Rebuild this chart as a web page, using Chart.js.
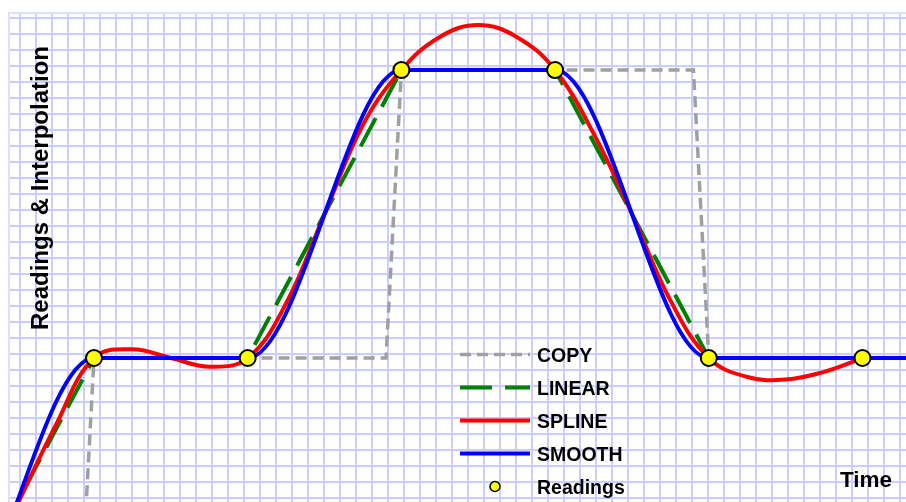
<!DOCTYPE html>
<html>
<head>
<meta charset="utf-8">
<title>Readings &amp; Interpolation</title>
<script src="https://cdn.jsdelivr.net/npm/chart.js@4.4.1/dist/chart.umd.min.js"></script>
<style>
  html, body { margin: 0; padding: 0; background: #fff; }
  canvas { display: block; }
</style>
</head>
<body>
<canvas id="chart" width="906" height="502"></canvas>
<script>
// readings, t = reading number (-1, 0 and 7 fall outside the visible window)
const readingTimes = [-1, 0, 1, 2, 3, 4, 5, 6, 7];
const readingValues = [0, 0, 1, 1, 2, 2, 1, 1, 1];

// COPY keeps the last reading, jumps over one 0.1 sample step
const copyTimes = [-1, 0.9, 1.0, 2.9, 3.0, 4.9, 5.0, 7];
const copyValues = [0, 0, 1, 1, 2, 2, 1, 1];

// SPLINE, every quarter step
const splineTimes = [0, 0.25, 0.5, 0.75, 1, 1.25, 1.5, 1.75, 2, 2.25, 2.5, 2.75, 3,
  3.25, 3.5, 3.75, 4, 4.25, 4.5, 4.75, 5, 5.25, 5.5, 5.75, 6];
const splineValues = [0, 0.22, 0.49, 0.765, 1, 1.03, 1.0, 0.97, 1, 1.19, 1.5, 1.81, 2,
  2.115, 2.156, 2.115, 2, 1.78, 1.5, 1.2, 1, 0.934, 0.925, 0.952, 1];

const seriesLabels = ['COPY', 'LINEAR', 'SPLINE', 'SMOOTH', 'Readings'];
const yTitle = 'Readings & Interpolation';
const xTitle = 'Time';

const FONT = '"Liberation Sans", Arial, sans-serif';
const GRID = 'rgb(204,204,255)';

const pts = (xs, ys) => xs.map((x, i) => ({ x: x, y: ys[i] }));

// graph-paper grid: one line every 16px
function gridTicks(start, step, end) {
  const out = [];
  if (step > 0) for (let v = start; v <= end; v += step) out.push({ value: v });
  else for (let v = start; v >= end; v += step) out.push({ value: v });
  return out;
}

const lineBase = { pointRadius: 0, pointHoverRadius: 0, fill: false, capBezierPoints: false };

const datasets = [
  Object.assign({}, lineBase, {
    label: seriesLabels[0], data: pts(copyTimes, copyValues),
    borderColor: '#a0a0a0', borderWidth: 3.5, borderDash: [11, 6], tension: 0, order: 5
  }),
  Object.assign({}, lineBase, {
    label: seriesLabels[1], data: pts(readingTimes, readingValues),
    borderColor: '#008000', borderWidth: 4, borderDash: [32, 13], tension: 0, order: 4
  }),
  Object.assign({}, lineBase, {
    label: seriesLabels[2], data: pts(splineTimes, splineValues),
    borderColor: '#ff0000', borderWidth: 4, tension: 0.4, order: 3
  }),
  Object.assign({}, lineBase, {
    label: seriesLabels[3], data: pts(readingTimes, readingValues),
    borderColor: '#0000ff', borderWidth: 4, cubicInterpolationMode: 'monotone', order: 2
  }),
  {
    label: seriesLabels[4], data: pts(readingTimes, readingValues), showLine: false,
    pointRadius: 8, pointBackgroundColor: '#ffff00', pointBorderColor: '#000',
    pointBorderWidth: 2, order: 1
  }
];

const overlay = {
  id: 'overlay',
  afterDraw(chart) {
    const ctx = chart.ctx;
    ctx.save();
    ctx.fillStyle = '#000';
    ctx.textBaseline = 'alphabetic';

    ctx.save();
    ctx.font = 'bold 24px ' + FONT;
    ctx.textAlign = 'center';
    ctx.translate(48, 188);
    ctx.rotate(-Math.PI / 2);
    ctx.fillText(yTitle, 0, 0);
    ctx.restore();

    ctx.font = 'bold 22.5px ' + FONT;
    ctx.textAlign = 'left';
    ctx.fillText(xTitle, 840, 487);

    // legend
    ctx.font = 'bold 19.5px ' + FONT;
    const x0 = 460, x1 = 530, top = 354.5, gap = 33;
    chart.data.datasets.forEach((ds, i) => {
      const y = top + i * gap;
      if (ds.showLine === false) {
        ctx.beginPath();
        ctx.arc((x0 + x1) / 2, y, 5, 0, Math.PI * 2);
        ctx.fillStyle = ds.pointBackgroundColor;
        ctx.fill();
        ctx.lineWidth = 1.5;
        ctx.strokeStyle = ds.pointBorderColor;
        ctx.stroke();
      } else {
        ctx.beginPath();
        ctx.setLineDash(ds.borderDash || []);
        ctx.lineWidth = ds.borderWidth;
        ctx.strokeStyle = ds.borderColor;
        ctx.moveTo(x0, y);
        ctx.lineTo(x1, y);
        ctx.stroke();
        ctx.setLineDash([]);
      }
      ctx.fillStyle = '#000';
      ctx.fillText(ds.label, 537, y + 7);
    });
    ctx.restore();
  }
};

new Chart(document.getElementById('chart'), {
  type: 'line',
  data: { datasets: datasets },
  options: {
    responsive: false,
    animation: false,
    devicePixelRatio: 1,
    layout: { autoPadding: false, padding: { left: 9, top: 13, right: 0, bottom: 0 } },
    plugins: { legend: { display: false }, tooltip: { enabled: false } },
    events: [],
    scales: {
      x: {
        type: 'linear', position: 'top', min: 0.447, max: 6.283,
        afterBuildTicks: axis => { axis.ticks = gridTicks(0.517, 0.1041, 6.283); },
        ticks: { display: false },
        grid: { color: GRID, lineWidth: 2, drawTicks: false },
        border: { display: true, color: 'rgb(222,222,255)', width: 2 }
      },
      y: {
        type: 'linear', position: 'left', min: 0.5, max: 2.198,
        afterBuildTicks: axis => { axis.ticks = gridTicks(2.1823, -0.05556, 0.5); },
        ticks: { display: false },
        grid: { color: GRID, lineWidth: 2, drawTicks: false },
        border: { display: true, color: 'rgb(222,222,255)', width: 2 }
      }
    }
  },
  plugins: [overlay]
});
</script>
</body>
</html>
